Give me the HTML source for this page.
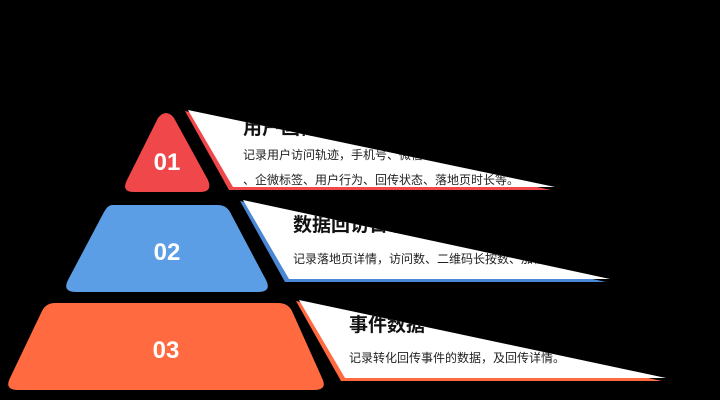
<!DOCTYPE html>
<html><head><meta charset="utf-8"><style>
html,body{margin:0;padding:0;background:#000;width:720px;height:400px;overflow:hidden}
svg{display:block}
text{font-family:"Liberation Sans","Noto Sans CJK SC",sans-serif}
</style></head><body>
<svg width="720" height="400" viewBox="0 0 720 400">
<rect width="720" height="400" fill="#000"/>
<!-- pyramid -->
<path d="M158,118 Q166,108 174,118 L208,180 Q213,192 200,192 L134,192 Q121,192 127,180 Z" fill="#f0484a"/>
<path d="M112,205 L218,205 Q226,205 230,212 L266,280 Q272,292 258,292 L76,292 Q62,292 68,280 L104,212 Q108,205 112,205 Z" fill="#5b9ee6"/>
<path d="M55,303 L278,303 Q288,303 292,311 L322,378 Q328,390 314,390 L18,390 Q4,390 10,378 L42,311 Q46,303 55,303 Z" fill="#ff6a40"/>
<text x="167" y="170" font-size="24" font-weight="bold" fill="#fff" text-anchor="middle">01</text>
<text x="167" y="260" font-size="24" font-weight="bold" fill="#fff" text-anchor="middle">02</text>
<text x="166" y="358" font-size="24" font-weight="bold" fill="#fff" text-anchor="middle">03</text>
<!-- triangles -->
<polygon points="185,111 551,190 229,190" fill="#f0484a"/>
<polygon points="188,110 555,187 233,187" fill="#fff"/>
<polygon points="240,201 606,282 285,282" fill="#4a88d6"/>
<polygon points="243,200 610,279 289,279" fill="#fff"/>
<polygon points="296,301 662,381 341,381" fill="#ff6a40"/>
<polygon points="299,300 666,378 345,378" fill="#fff"/>
<defs>
<clipPath id="c1"><polygon points="188,110 555,187 233,187"/></clipPath>
<clipPath id="c2"><polygon points="243,200 610,279 289,279"/></clipPath>
<clipPath id="c3"><polygon points="299,300 666,378 345,378"/></clipPath>
</defs>
<g clip-path="url(#c1)">
<text x="243" y="134" font-size="19" font-weight="bold" fill="#111">用户画像</text>
<text x="243" y="159" font-size="12" fill="#222">记录用户访问轨迹，手机号、微信号、企业微信</text>
<text x="243" y="184" font-size="12" fill="#222">、企微标签、用户行为、回传状态、落地页时长等。</text>
</g>
<g clip-path="url(#c2)">
<text x="293" y="231" font-size="19" font-weight="bold" fill="#111">数据回访日志</text>
<text x="293" y="263" font-size="12" fill="#222">记录落地页详情，访问数、二维码长按数、加粉数</text>
</g>
<g clip-path="url(#c3)">
<text x="349" y="331" font-size="19" font-weight="bold" fill="#111">事件数据</text>
<text x="349" y="362" font-size="12" fill="#222">记录转化回传事件的数据，及回传详情。</text>
</g>
</svg>
</body></html>
